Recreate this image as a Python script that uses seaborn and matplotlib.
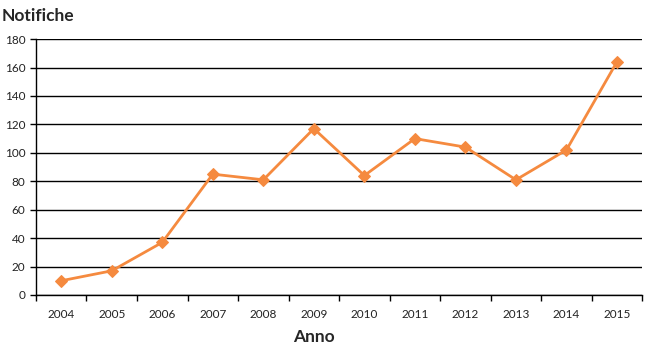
import seaborn as sns
import pandas as pd
import matplotlib.pyplot as plt
import numpy as np

# Data
anni = ['2004', '2005', '2006', '2007', '2008', '2009', '2010', '2011', '2012', '2013', '2014', '2015']
notifiche = [10, 17, 37, 85, 81, 117, 84, 110, 104, 81, 102, 164]

df = pd.DataFrame({'pos': np.arange(len(anni)), 'Notifiche': notifiche})

sns.set_theme(style="white")
plt.rcParams['font.family'] = ['Lato', 'DejaVu Sans']

fig = plt.figure(figsize=(6.54, 3.52), dpi=100)
ax = fig.add_axes([0.055, 0.162, 0.927, 0.727])

sns.lineplot(data=df, x='pos', y='Notifiche', ax=ax, color='#F58A3F',
             linewidth=2, marker='D', markersize=6.5, markeredgecolor='#F58A3F')

ax.set_xlim(-0.5, len(anni) - 0.5)
ax.set_ylim(0, 180)
ax.set_yticks(range(0, 181, 20))
ax.set_xticks(range(len(anni)))
ax.set_xticklabels(anni, fontsize=8.5, color='#222222')
ax.set_xticks(np.arange(-0.5, len(anni), 1), minor=True)
ax.tick_params(axis='x', which='major', length=0, pad=10)
ax.tick_params(axis='x', which='minor', length=4, width=1, color='black', direction='out', bottom=True)
ax.tick_params(axis='y', which='major', length=4, width=1, color='black', direction='out', left=True,
               labelsize=8.5, labelcolor='#222222')

ax.yaxis.grid(True, color='black', linewidth=1)
ax.set_axisbelow(True)
for side in ['top', 'right']:
    ax.spines[side].set_visible(False)
for side in ['left', 'bottom']:
    ax.spines[side].set_color('black')
    ax.spines[side].set_linewidth(1)

ax.set_xlabel('')
ax.set_ylabel('')
fig.text(0.003, 0.955, 'Notifiche', fontsize=12.5, fontweight='bold', ha='left', va='center')
fig.text(0.480, 0.042, 'Anno', fontsize=12.5, fontweight='bold', ha='center', va='center')

fig.savefig('out.png', dpi=100)
